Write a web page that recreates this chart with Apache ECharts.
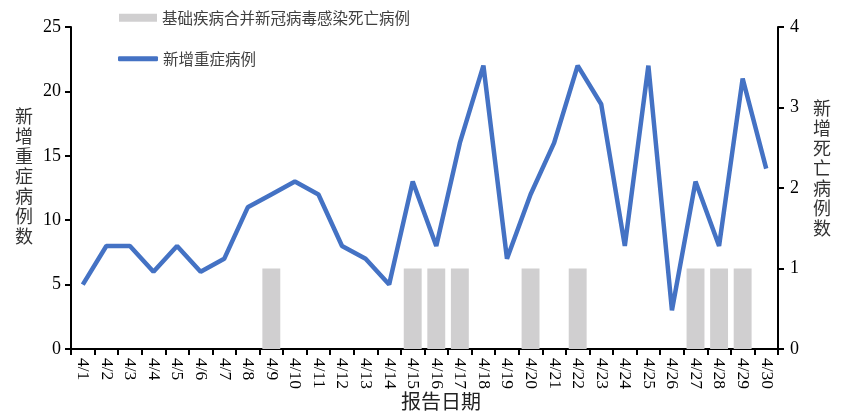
<!DOCTYPE html>
<html>
<head>
<meta charset="utf-8">
<script src="https://cdn.jsdelivr.net/npm/echarts@6/dist/echarts.min.js"></script>
<style>html,body{margin:0;padding:0;background:#fff}#c{width:846px;height:420px}</style>
</head>
<body>
<div id="c"></div>
<script>
const categories = ['4/1','4/2','4/3','4/4','4/5','4/6','4/7','4/8','4/9','4/10','4/11','4/12','4/13','4/14','4/15','4/16','4/17','4/18','4/19','4/20','4/21','4/22','4/23','4/24','4/25','4/26','4/27','4/28','4/29','4/30'];
const severeCases = [5,8,8,6,8,6,7,11,12,13,12,8,7,5,13,8,16,22,7,12,16,22,19,8,22,3,13,8,21,14];
const deaths = [0,0,0,0,0,0,0,0,1,0,0,0,0,0,1,1,1,0,0,1,0,1,0,0,0,0,1,1,1,0];
const leftTicks = [0,5,10,15,20,25];
const rightTicks = [0,1,2,3,4];
const barName = '基础疾病合并新冠病毒感染死亡病例';
const lineName = '新增重症病例';
const leftAxisName = '新增重症病例数';
const rightAxisName = '新增死亡病例数';
const xAxisName = '报告日期';

const serif = '"Liberation Serif","DejaVu Serif",serif';
const cjk = '"Noto Sans CJK SC",sans-serif';
const chart = echarts.init(document.getElementById('c'));
chart.setOption({
  animation: false,
  backgroundColor: '#fff',
  grid: {left: 71, right: 68, top: 27, bottom: 71, containLabel: false, outerBoundsMode: 'none'},
  legend: [
    {left: 114, top: 5, itemWidth: 38, itemHeight: 8, itemGap: 6,
     textStyle: {fontFamily: cjk, fontSize: 15.5, color: '#404040'},
     data: [{name: barName, icon: 'rect'}]},
    {left: 113, top: 46, itemWidth: 40, itemHeight: 5,
     textStyle: {fontFamily: cjk, fontSize: 15.5, color: '#404040'},
     data: [{name: lineName, icon: 'roundRect'}]}
  ],
  xAxis: {
    type: 'category', data: categories,
    axisLine: {lineStyle: {color: '#000', width: 2}},
    axisTick: {show: true, length: 6, lineStyle: {color: '#000', width: 2}},
    axisLabel: {rotate: -90, fontFamily: serif, fontSize: 17.5, color: '#000', margin: 9, interval: 0}
  },
  yAxis: [
    {type: 'value', min: leftTicks[0], max: leftTicks[leftTicks.length-1], interval: 5,
     splitLine: {show: false},
     axisLine: {show: true, lineStyle: {color: '#000', width: 2}},
     axisTick: {show: true, length: 6, lineStyle: {color: '#000', width: 2}},
     axisLabel: {fontFamily: serif, fontSize: 18, color: '#000', margin: 10}},
    {type: 'value', min: rightTicks[0], max: rightTicks[rightTicks.length-1], interval: 1,
     position: 'right', splitLine: {show: false},
     axisLine: {show: true, lineStyle: {color: '#000', width: 2}},
     axisTick: {show: true, length: 6, lineStyle: {color: '#000', width: 2}},
     axisLabel: {fontFamily: serif, fontSize: 18, color: '#000', margin: 12}}
  ],
  graphic: [
    {type: 'text', left: 15, top: 106, style: {text: leftAxisName.split('').join('\n'), font: '18px "Noto Sans CJK SC"', fill: '#333', lineHeight: 20}},
    {type: 'text', left: 813, top: 98, style: {text: rightAxisName.split('').join('\n'), font: '18px "Noto Sans CJK SC"', fill: '#333', lineHeight: 20}},
    {type: 'text', left: 401, top: 391, style: {text: xAxisName, font: '20px "Noto Sans CJK SC"', fill: '#222'}}
  ],
  series: [
    {name: barName, type: 'bar', yAxisIndex: 1, data: deaths, barWidth: '76%',
     itemStyle: {color: '#d0cfd0'}},
    {name: lineName, type: 'line', yAxisIndex: 0, data: severeCases, symbol: 'none',
     lineStyle: {color: '#4472c4', width: 4.5}, itemStyle: {color: '#4472c4'}, z: 3}
  ]
});
</script>
</body>
</html>
